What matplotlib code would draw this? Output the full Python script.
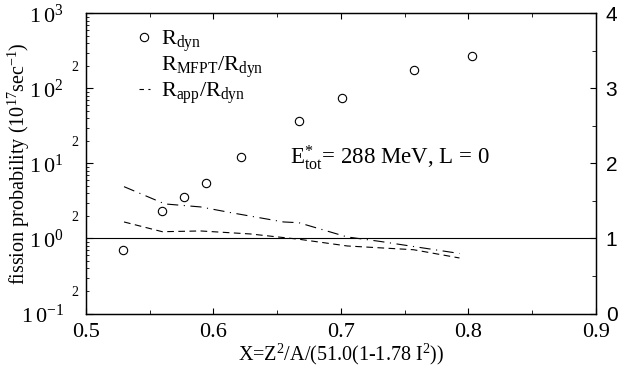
import numpy as np
import matplotlib.pyplot as plt
from matplotlib.lines import Line2D
from matplotlib.ticker import FixedLocator, FuncFormatter, MultipleLocator

plt.rcParams['font.family'] = 'Liberation Serif'
plt.rcParams['mathtext.fontset'] = 'custom'
plt.rcParams['mathtext.rm'] = 'Liberation Serif'
plt.rcParams['mathtext.it'] = 'Liberation Serif'

# R_dyn (left log axis)
x_dyn = [0.529, 0.560, 0.577, 0.594, 0.622, 0.667, 0.701, 0.757, 0.803]
r_dyn = [0.70, 2.31, 3.59, 5.41, 12.2, 37.0, 73.6, 175, 272]

# ratios (right linear axis)
x_mfpt = [0.530, 0.562, 0.590, 0.615, 0.655, 0.667, 0.705, 0.731, 0.793]
r_mfpt = [1.69, 1.46, 1.42, 1.34, 1.22, 1.21, 1.02, 0.96, 0.80]
x_app = [0.530, 0.560, 0.590, 0.629, 0.667, 0.705, 0.757, 0.793]
r_app = [1.22, 1.09, 1.10, 1.06, 0.99, 0.90, 0.85, 0.74]
ratio_ref = 1.0

fig = plt.figure(figsize=(6.26, 3.68), dpi=100)
ax = fig.add_axes([0.137, 0.148, 0.815, 0.816])
ax2 = ax.twinx()

ax.set_yscale('log')
ax.set_xlim(0.5, 0.9)
ax.set_ylim(0.1, 1000)
ax2.set_ylim(0, 4)

ax.plot(x_dyn, r_dyn, 'o', mfc='white', mec='black', ms=6, mew=0.8, zorder=5)
ax2.plot(x_mfpt, r_mfpt, color='black', lw=0.8, dashes=[10, 5, 1, 5])
ax2.plot(x_app, r_app, color='black', lw=0.8, dashes=[6, 4])
ax2.axhline(ratio_ref, color='black', lw=0.8)

# x ticks
ax.xaxis.set_major_locator(MultipleLocator(0.1))
ax.xaxis.set_minor_locator(MultipleLocator(0.05))
ax.xaxis.set_major_formatter(FuncFormatter(lambda v, p: f'{v:.1f}'))
ax.tick_params(axis='x', which='both', direction='in', top=True, labelsize=16, pad=7)
ax.tick_params(axis='x', which='major', length=4)
ax.tick_params(axis='x', which='minor', length=3)

# left log ticks
ax.yaxis.set_major_locator(FixedLocator([0.1, 1, 10, 100, 1000]))
exps = {0.1: '-1', 1: '0', 10: '1', 100: '2', 1000: '3'}
ax.yaxis.set_major_formatter(FuncFormatter(
    lambda v, p: '$\\mathrm{1\\,0^{' + exps.get(round(v, 3), '') + '}}$'))
minors = [m * 10.0 ** e for e in range(-1, 3) for m in range(2, 10)]
ax.yaxis.set_minor_locator(FixedLocator(minors))
ax.yaxis.set_minor_formatter(FuncFormatter(
    lambda v, p: '2' if abs(v / 10 ** np.floor(np.log10(v) + 1e-9) - 2) < 1e-6 else ''))
ax.tick_params(axis='y', which='major', direction='in', length=5, labelsize=16, pad=16)
ax.tick_params(axis='y', which='minor', direction='in', length=2.5, labelsize=10, pad=5)

# right linear ticks
ax2.yaxis.set_major_locator(MultipleLocator(1))
ax2.yaxis.set_minor_locator(MultipleLocator(0.5))
ax2.tick_params(axis='y', which='both', direction='in', labelsize=15, pad=7)
ax2.tick_params(axis='y', which='major', length=4)
ax2.tick_params(axis='y', which='minor', length=3)
for lab in ax2.get_yticklabels():
    lab.set_fontfamily('Liberation Sans')

for a in (ax, ax2):
    for s in a.spines.values():
        s.set_linewidth(0.9)

ax.set_xlabel('X=Z$^2$/A/(51.0(1-1.78 I$^2$))', fontsize=14.5, labelpad=0)
ax.set_ylabel('fission probability (10$^{17}$sec$^{-1}$)', fontsize=14.5)
ax.yaxis.set_label_coords(-0.105, 0.5)

handles = [
    Line2D([], [], ls='none', marker='o', mfc='white', mec='black', ms=6, mew=0.8),
    Line2D([], [], ls='none'),
    Line2D([], [], color='black', lw=0.8, dashes=[4, 4]),
]
labels = ['R$_{\\mathrm{dyn}}$', 'R$_{\\mathrm{MFPT}}$/R$_{\\mathrm{dyn}}$',
          'R$_{\\mathrm{app}}$/R$_{\\mathrm{dyn}}$']
ax.legend(handles, labels, loc='upper left', bbox_to_anchor=(0.065, 1.015),
          frameon=False, fontsize=16, handlelength=0.5, handletextpad=0.5,
          labelspacing=0.02)

ax.text(0.40, 0.52, 'E$^{*}_{\\mathrm{tot}}$= 288 MeV, L = 0', transform=ax.transAxes,
        fontsize=16.5, va='center', ha='left')

fig.savefig('out.png', dpi=100)
